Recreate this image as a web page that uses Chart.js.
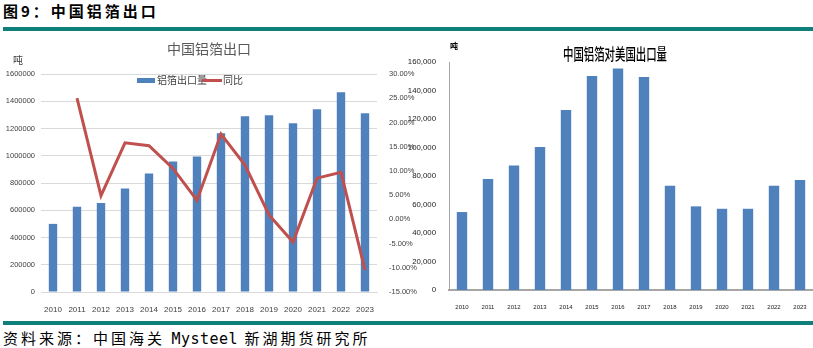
<!DOCTYPE html>
<html>
<head>
<meta charset="utf-8">
<script src="https://cdn.jsdelivr.net/npm/chart.js@4.4.1/dist/chart.umd.min.js"></script>
<style>
  body { margin: 0; background: #fff; }
  #wrap { position: relative; width: 813px; height: 348px; overflow: hidden; font-family: "Noto Sans CJK SC", sans-serif; }
  .abs { position: absolute; white-space: nowrap; }
  .rule { position: absolute; left: 3px; width: 810px; height: 4px; background: #0e7f7b; }
  canvas { position: absolute; }
</style>
</head>
<body>
<div id="wrap">
  <div class="abs" style="left:3px;top:1px;font-size:15px;font-weight:700;letter-spacing:3px;line-height:20px;color:#000;">图9：中国铝箔出口</div>
  <div class="rule" style="top:27px;"></div>

  <canvas id="left" width="420" height="282" style="left:0;top:36px;"></canvas>
  <canvas id="right" width="413" height="282" style="left:400px;top:36px;"></canvas>

  <div class="abs" style="left:167px;top:39px;font-size:14px;line-height:18px;color:#595959;">中国铝箔出口</div>
  <div class="abs" style="left:13px;top:54px;font-size:10px;line-height:12px;color:#404040;">吨</div>
  <div class="abs" style="left:137px;top:78px;width:18px;height:5px;background:#4f81bd;"></div>
  <div class="abs" style="left:157px;top:73px;font-size:10px;line-height:14px;color:#404040;">铝箔出口量</div>
  <div class="abs" style="left:202px;top:79px;width:20px;height:3px;background:#c0504d;"></div>
  <div class="abs" style="left:223px;top:73px;font-size:10px;line-height:14px;color:#404040;">同比</div>

  <div class="abs" style="left:563px;top:44px;font-size:16px;line-height:18px;color:#000;font-weight:500;transform:scaleX(0.65);transform-origin:left top;">中国铝箔对美国出口量</div>
  <div class="abs" style="left:450px;top:41px;font-size:8px;line-height:10px;color:#000;font-weight:700;">吨</div>

  <div class="rule" style="top:321px;"></div>
  <div class="abs" style="left:3px;top:328px;font-size:15px;line-height:19px;letter-spacing:3px;color:#000;">资料来源：中国海关 <span style="font-family:'DejaVu Sans Mono',monospace;letter-spacing:0.5px;">Mysteel</span> 新湖期货研究所</div>
</div>

<script>
const years = ["2010","2011","2012","2013","2014","2015","2016","2017","2018","2019","2020","2021","2022","2023"];
const exportTons = [500000, 625000, 654000, 759000, 869000, 957000, 994000, 1165000, 1290000, 1297000, 1238000, 1341000, 1466000, 1312000];
const yoyPct = [null, 25.0, 4.9, 15.8, 15.2, 10.5, 3.9, 17.6, 11.2, 0.9, -4.7, 8.5, 9.7, -10.5];
const usExportTons = [54700, 77900, 87400, 100400, 126300, 150200, 155500, 149500, 73200, 58700, 57000, 57000, 73200, 77200];

const sans = "'Liberation Sans', Arial, sans-serif";
const fixW = w => s => { s.width = w; };
const fixH = h => s => { s.height = h; };

new Chart(document.getElementById("left"), {
  data: {
    labels: years,
    datasets: [
      { type: "line", label: "同比", data: yoyPct, yAxisID: "y1", borderColor: "#c0504d", backgroundColor: "#c0504d",
        borderWidth: 3, pointRadius: 0, tension: 0, order: 0 },
      { type: "bar", label: "铝箔出口量", data: exportTons, yAxisID: "y", backgroundColor: "#4f81bd",
        barPercentage: 0.35, categoryPercentage: 1, order: 1 }
    ]
  },
  options: {
    responsive: false, animation: false,
    layout: { padding: { top: 38, right: 0, bottom: 0, left: 0 } },
    plugins: { legend: { display: false }, title: { display: false }, tooltip: { enabled: false } },
    scales: {
      x: {
        grid: { display: false }, border: { color: "#d9d9d9" },
        ticks: { color: "#404040", font: { family: sans, size: 8 }, maxRotation: 0, autoSkip: false, padding: 5 },
        afterFit: fixH(26)
      },
      y: {
        position: "left", min: 0, max: 1600000,
        grid: { color: "#d9d9d9", drawTicks: false }, border: { display: false },
        ticks: { stepSize: 200000, color: "#404040", font: { family: sans, size: 7.5 }, padding: 6, callback: v => String(v) },
        afterFit: fixW(41)
      },
      y1: {
        position: "right", min: -15, max: 30,
        grid: { display: false }, border: { display: false },
        ticks: { stepSize: 5, color: "#404040", font: { family: sans, size: 7.5 }, padding: 4, callback: v => v.toFixed(2) + "%" },
        afterFit: fixW(43)
      }
    }
  }
});

new Chart(document.getElementById("right"), {
  type: "bar",
  data: {
    labels: years,
    datasets: [
      { label: "中国铝箔对美国出口量", data: usExportTons, backgroundColor: "#4f81bd", barPercentage: 0.4, categoryPercentage: 1 }
    ]
  },
  options: {
    responsive: false, animation: false,
    layout: { padding: { top: 26, right: 0, bottom: 0, left: 0 } },
    plugins: { legend: { display: false }, title: { display: false }, tooltip: { enabled: false } },
    scales: {
      x: {
        grid: { display: false }, border: { color: "#a6a6a6", width: 2 },
        ticks: { color: "#222", font: { family: sans, size: 6 }, maxRotation: 0, autoSkip: false, padding: 6 },
        afterFit: fixH(28)
      },
      y: {
        min: 0, max: 160000,
        grid: { display: false }, border: { color: "#a6a6a6", width: 1 },
        ticks: { stepSize: 20000, color: "#222", font: { family: sans, size: 7.8 }, padding: 5,
          callback: v => v.toLocaleString("en-US") },
        afterFit: fixW(49)
      }
    }
  }
});
</script>
</body>
</html>
